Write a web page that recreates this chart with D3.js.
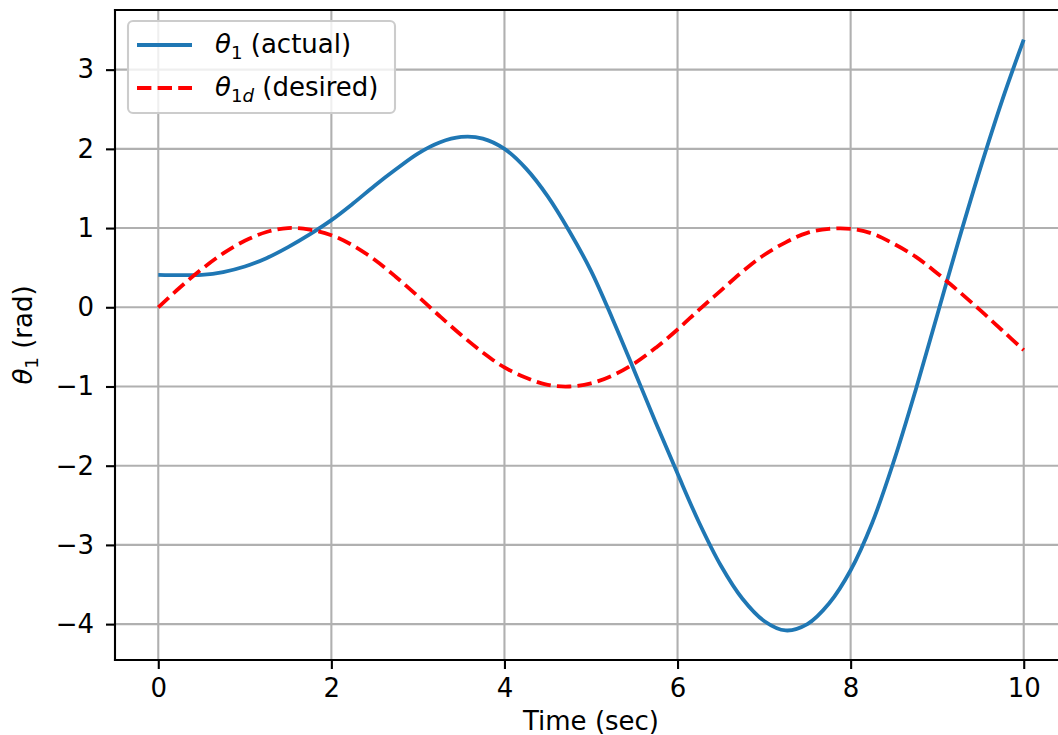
<!DOCTYPE html>
<html>
<head>
<meta charset="utf-8">
<script src="https://cdn.jsdelivr.net/npm/d3@7"></script>
<style>
  html, body { margin: 0; padding: 0; background: #ffffff; }
  svg { display: block; font-family: "DejaVu Sans", sans-serif; }
</style>
</head>
<body>
<svg id="chart" width="1058" height="735"></svg>
<script>
// ---- data ----
const time = [0, 0.25, 0.5, 0.75, 1.0, 1.25, 1.5, 1.75, 2.0, 2.25, 2.5, 2.75, 3.0, 3.25, 3.5, 3.75, 4.0, 4.25, 4.5, 4.75, 5.0, 5.25, 5.5, 5.75, 6.0, 6.25, 6.5, 6.75, 7.0, 7.25, 7.5, 7.75, 8.0, 8.25, 8.5, 8.75, 9.0, 9.25, 9.5, 9.75, 10.0];
const actualValue = [0.41, 0.405, 0.41, 0.445, 0.515, 0.62, 0.76, 0.92, 1.10, 1.31, 1.535, 1.745, 1.94, 2.08, 2.15, 2.13, 2.00, 1.75, 1.40, 0.96, 0.46, -0.15, -0.80, -1.46, -2.10, -2.72, -3.26, -3.68, -3.96, -4.08, -4.00, -3.74, -3.32, -2.72, -1.94, -1.05, -0.10, 0.85, 1.76, 2.61, 3.38];
const desiredValue = [0, 0.25, 0.48, 0.68, 0.84, 0.95, 1.0, 0.98, 0.91, 0.78, 0.60, 0.38, 0.14, -0.11, -0.35, -0.57, -0.76, -0.89, -0.98, -1.0, -0.96, -0.86, -0.71, -0.51, -0.28, -0.03, 0.21, 0.45, 0.66, 0.82, 0.94, 0.99, 0.99, 0.93, 0.80, 0.64, 0.43, 0.20, -0.04, -0.29, -0.54];

const xTicks = [0, 2, 4, 6, 8, 10];
const yTicks = [-4, -3, -2, -1, 0, 1, 2, 3];
const xLabel = "Time (sec)";

// ---- layout ----
const svg = d3.select("#chart");
const mLeft = 115, mTop = 10, plotW = 952, plotH = 650;
const fs = 26;
const lw = 3.8, thin = 2.1, tickLen = 9;

const x = d3.scaleLinear().domain([-0.5, 10.5]).range([mLeft, mLeft + plotW]);
const allY = actualValue.concat(desiredValue);
const yMin = d3.min(allY), yMax = d3.max(allY);
const yPad = (yMax - yMin) * 0.05;
const y = d3.scaleLinear().domain([yMin - yPad, yMax + yPad]).range([mTop + plotH, mTop]);

const fmt = d => (d < 0 ? "\u2212" + Math.abs(d) : String(d));

svg.append("defs").append("clipPath").attr("id", "clip")
  .append("rect").attr("x", mLeft).attr("y", mTop).attr("width", plotW).attr("height", plotH);

// grid
const grid = svg.append("g").attr("clip-path", "url(#clip)");
grid.selectAll("line.gx").data(xTicks).join("line").attr("class", "gx")
  .attr("x1", d => x(d)).attr("x2", d => x(d))
  .attr("y1", mTop).attr("y2", mTop + plotH)
  .attr("stroke", "#b0b0b0").attr("stroke-width", thin);
grid.selectAll("line.gy").data(yTicks).join("line").attr("class", "gy")
  .attr("x1", mLeft).attr("x2", mLeft + plotW)
  .attr("y1", d => y(d)).attr("y2", d => y(d))
  .attr("stroke", "#b0b0b0").attr("stroke-width", thin);

// lines
const actual = time.map((t, i) => [t, actualValue[i]]);
const desired = time.map((t, i) => [t, desiredValue[i]]);
const line = d3.line().x(d => x(d[0])).y(d => y(d[1])).curve(d3.curveCatmullRom.alpha(0.5));

const plot = svg.append("g").attr("clip-path", "url(#clip)");
plot.append("path").datum(actual)
  .attr("d", line).attr("fill", "none")
  .attr("stroke", "#1f77b4").attr("stroke-width", lw)
  .attr("stroke-linejoin", "round");
plot.append("path").datum(desired)
  .attr("d", line).attr("fill", "none")
  .attr("stroke", "#ff0000").attr("stroke-width", lw)
  .attr("stroke-dasharray", "14.4,6.2");

// axes
const xAxis = d3.axisBottom(x).tickValues(xTicks).tickFormat(fmt).tickSize(tickLen).tickPadding(9.5);
const yAxis = d3.axisLeft(y).tickValues(yTicks).tickFormat(fmt).tickSize(tickLen).tickPadding(12);

const gx = svg.append("g").attr("transform", `translate(0,${mTop + plotH})`).call(xAxis);
const gy = svg.append("g").attr("transform", `translate(${mLeft},0)`).call(yAxis);
[gx, gy].forEach(g => {
  g.select(".domain").remove();
  g.selectAll(".tick line").attr("stroke", "#000").attr("stroke-width", thin);
  g.selectAll(".tick text").attr("fill", "#000").style("font-size", fs + "px")
    .style("font-family", "DejaVu Sans");
});

// spines
const spine = (x1, y1, x2, y2) => svg.append("line")
  .attr("x1", x1).attr("y1", y1).attr("x2", x2).attr("y2", y2)
  .attr("stroke", "#000").attr("stroke-width", thin).attr("stroke-linecap", "square");
spine(mLeft, mTop, mLeft, mTop + plotH);
spine(mLeft, mTop, mLeft + plotW, mTop);
spine(mLeft, mTop + plotH, mLeft + plotW, mTop + plotH);
spine(mLeft + plotW, mTop, mLeft + plotW, mTop + plotH);

// axis labels
svg.append("text").attr("x", mLeft + plotW / 2).attr("y", 730)
  .attr("text-anchor", "middle").style("font-size", fs + "px").attr("fill", "#000")
  .text(xLabel);

const yl = svg.append("text")
  .attr("transform", `translate(32,${mTop + plotH / 2}) rotate(-90)`)
  .attr("text-anchor", "middle").style("font-size", fs + "px").attr("fill", "#000");
yl.append("tspan").style("font-style", "italic").text("\u03B8");
yl.append("tspan").attr("dy", 6).style("font-size", (fs * 0.7) + "px").text("1");
yl.append("tspan").attr("dy", -6).text(" (rad)");

// legend
const lg = svg.append("g");
lg.append("rect").attr("x", 128).attr("y", 21).attr("width", 267).attr("height", 92)
  .attr("rx", 5).attr("fill", "#ffffff").attr("fill-opacity", 0.8)
  .attr("stroke", "#cccccc").attr("stroke-width", thin);
const entries = [
  { color: "#1f77b4", dash: null, sub: "1", subItalic: null, rest: " (actual)", yy: 45 },
  { color: "#ff0000", dash: "14.4,6.2", sub: "1", subItalic: "d", rest: " (desired)", yy: 88 }
];
entries.forEach(e => {
  const l = lg.append("line").attr("x1", 137).attr("x2", 192).attr("y1", e.yy).attr("y2", e.yy)
    .attr("stroke", e.color).attr("stroke-width", lw);
  if (e.dash) l.attr("stroke-dasharray", e.dash);
  const t = lg.append("text").attr("x", 215).attr("y", e.yy + 7.5)
    .style("font-size", fs + "px").attr("fill", "#000");
  t.append("tspan").style("font-style", "italic").text("\u03B8");
  t.append("tspan").attr("dy", 6).style("font-size", (fs * 0.7) + "px").text(e.sub);
  if (e.subItalic) {
    t.append("tspan").style("font-size", (fs * 0.7) + "px").style("font-style", "italic").text(e.subItalic);
  }
  t.append("tspan").attr("dy", -6).text(e.rest);
});
</script>
</body>
</html>
